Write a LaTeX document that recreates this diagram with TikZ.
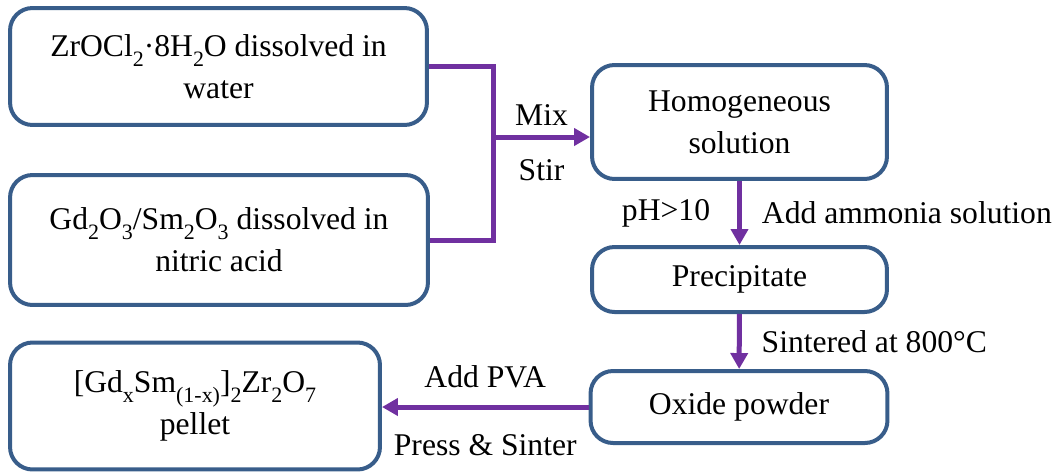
\documentclass[tikz,border=0pt]{standalone}
\usepackage{fontspec}
\setmainfont{Liberation Serif}
\definecolor{BoxBlue}{RGB}{56, 93, 138}
\definecolor{FlowPurple}{RGB}{112, 48, 160}
\usetikzlibrary{arrows.meta, positioning}
\newcommand{\chemsub}[1]{\raisebox{-0.32em}{\fontsize{12.5}{12.5}\selectfont #1}}

\begin{document}
\begin{tikzpicture}[x=0.02cm, y=-0.02cm, >={Triangle[length=0.32cm, width=0.34cm]},
    every node/.style={font=\fontsize{18}{24}\selectfont},
    procbox/.style={draw=BoxBlue, line width=0.08cm, rounded corners=0.45cm, align=center, inner sep=0pt},
    flow/.style={draw=FlowPurple, line width=0.1cm}]
    \useasboundingbox (0,0) rectangle (1057,474);
    % Starting solutions
    \node[procbox, minimum width=8.34cm, minimum height=2.34cm] (zr) at (218.5,66.5) {ZrOCl\chemsub{2}·8H\chemsub{2}O dissolved in\\ water};
    \node[procbox, minimum width=8.36cm, minimum height=2.6cm] (gd) at (219,240) {Gd\chemsub{2}O\chemsub{3}/Sm\chemsub{2}O\chemsub{3} dissolved in\\ nitric acid};
    % Main flow
    \node[procbox, minimum width=5.9cm, minimum height=2.28cm] (homo) at (739.5,122) {Homogeneous\\ solution};
    \node[procbox, minimum width=5.9cm, minimum height=1.3cm] (prec) at (739.5,279.5) {Precipitate};
    \node[procbox, minimum width=5.94cm, minimum height=1.44cm] (oxide) at (739,407) {Oxide powder};
    \node[procbox, minimum width=7.4cm, minimum height=2.54cm] (pellet) at (195,406) {[Gd\chemsub{x}Sm\chemsub{(1-x)}]\chemsub{2}Zr\chemsub{2}O\chemsub{7}\\ pellet};
    % Connectors
    \coordinate (join) at (493,137);
    \draw[flow] (zr.east) -| (join);
    \draw[flow] (gd.east) -| (join);
    \draw[flow, ->] (join) -- node[above=2pt] (mix) {Mix} node[below=8pt] (stir) {Stir} (homo.west |- join);
    \draw[flow, ->] (homo) -- node[left=12pt] (ph) {pH>10} node[right=8pt] (amm) {Add ammonia solution} (prec);
    \draw[flow, ->] (prec) -- node[right=8pt] (sint) {Sintered at 800°C} (oxide);
    \draw[flow, ->] (oxide.west) -- node[above=6pt] (pva) {Add PVA} node[below=11pt] (press) {Press \& Sinter} (pellet.east |- oxide.west);
\end{tikzpicture}
\end{document}
